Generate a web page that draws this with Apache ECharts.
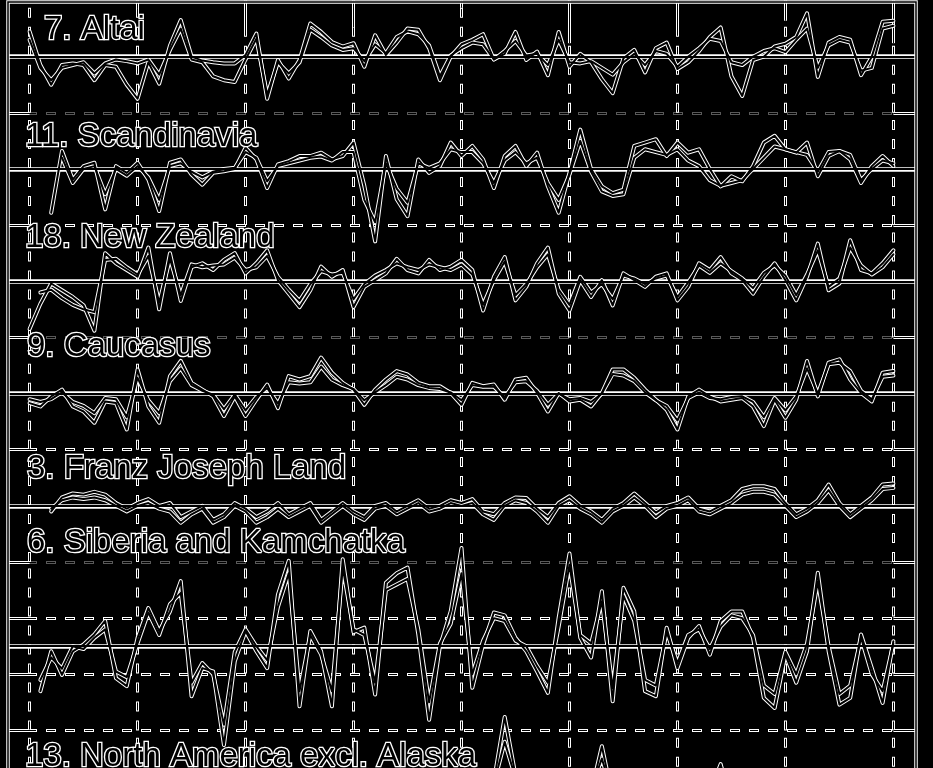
<!DOCTYPE html>
<html>
<head>
<meta charset="utf-8">
<title>Regional glacier mass balance</title>
<script src="https://cdn.jsdelivr.net/npm/echarts@6.0.0/dist/echarts.min.js"></script>
<style>
html, body { margin: 0; padding: 0; background: #000; }
#chart { width: 933px; height: 768px; }
</style>
</head>
<body>
<div id="chart"></div>
<script>
// ---------------- data ----------------
const firstYear = 1940, lastYear = 2020;
const years = [];
for (let y = firstYear; y <= lastYear; y++) years.push(y);
const decadeTicks = [1940, 1950, 1960, 1970, 1980, 1990, 2000, 2010, 2020];
const panelLabels = ['7. Altai', '11. Scandinavia', '18. New Zealand', '9. Caucasus',
  '3. Franz Joseph Land', '6. Siberia and Kamchatka', '13. North America excl. Alaska'];

const altaiA = [
  0.45, -0.15, -0.5, -0.15, -0.12, -0.15, -0.42, -0.15, -0.18, -0.5,
  -0.75, -0.1, -0.48, 0.2, 0.65, 0.0, -0.07, -0.1, -0.12, -0.12,
  0.03, 0.41, -0.75, -0.06, -0.39, -0.06, 0.59, 0.44, 0.26, 0.18,
  0.24, -0.18, 0.38, 0.03, 0.25, 0.5, 0.48, 0.15, -0.42, 0.0,
  0.22, 0.3, 0.4, -0.05, 0.05, 0.44, -0.06, 0.09, -0.33, 0.44,
  -0.18, 0.05, -0.1, -0.4, -0.65, -0.03, 0.12, -0.28, 0.15, 0.25,
  -0.22, -0.1, 0.1, 0.35, 0.52, -0.35, -0.7, -0.06, 0.0, 0.18,
  0.23, 0.35, 0.77, -0.36, 0.25, 0.35, 0.3, -0.33, 0.0, 0.62,
  0.64];
const altaiB = [
  0.3, -0.2, -0.42, -0.2, -0.15, -0.1, -0.3, -0.12, -0.05, -0.08,
  -0.12, -0.05, -0.32, 0.12, 0.5, -0.05, -0.1, -0.35, -0.42, -0.45,
  -0.05, 0.32, -0.68, -0.1, -0.3, -0.1, 0.48, 0.35, 0.2, 0.12,
  0.15, -0.08, 0.22, 0.06, 0.35, 0.45, 0.4, 0.2, -0.35, 0.02,
  0.15, 0.25, 0.22, -0.05, 0.1, 0.28, 0.02, 0.05, -0.15, 0.3,
  -0.1, -0.12, -0.08, -0.2, -0.32, -0.1, 0.05, -0.15, 0.1, 0.05,
  -0.18, 0.0, 0.15, 0.32, 0.28, -0.1, -0.15, 0.0, 0.1, 0.15,
  0.08, 0.3, 0.5, -0.2, 0.2, 0.3, 0.25, -0.25, -0.2, 0.5,
  0.55];

const scandA = [
  null, null, -0.78, 0.32, -0.19, 0.05, 0.11, -0.72, 0.05, -0.07,
  0.11, -0.19, -0.75, 0.11, 0.17, -0.1, -0.28, -0.07, -0.04, 0.0,
  0.38, 0.17, -0.34, 0.08, 0.14, 0.23, 0.23, 0.29, 0.17, 0.23,
  0.47, -0.3, -1.29, 0.23, -0.54, -0.84, 0.17, -0.07, 0.05, 0.47,
  0.23, 0.41, 0.17, -0.34, 0.23, 0.41, 0.05, 0.29, -0.31, -0.78,
  -0.07, 0.7, 0.0, -0.31, -0.43, -0.37, 0.41, 0.47, 0.53, 0.23,
  0.47, 0.29, 0.35, 0.0, -0.31, -0.13, -0.22, 0.05, 0.47, 0.59,
  0.35, 0.29, 0.47, -0.13, 0.23, 0.32, 0.17, -0.25, 0.05, 0.23,
  0.05];
const scandB = [
  null, null, null, 0.2, -0.25, 0.0, 0.05, -0.45, 0.0, -0.12,
  0.05, -0.15, -0.55, 0.05, 0.1, -0.05, -0.15, -0.05, 0.0, 0.02,
  0.3, 0.2, -0.22, 0.05, 0.1, 0.15, 0.2, 0.22, 0.15, 0.3,
  0.3, -0.55, -0.95, 0.1, -0.35, -0.6, 0.1, 0.02, 0.1, 0.35,
  0.3, 0.3, 0.1, -0.25, 0.15, 0.3, 0.1, 0.2, -0.25, -0.55,
  -0.1, 0.5, -0.05, -0.4, -0.48, -0.45, 0.2, 0.35, 0.3, 0.25,
  0.35, 0.15, 0.05, -0.2, -0.3, -0.25, -0.2, 0.0, 0.2, 0.4,
  0.35, 0.3, 0.25, -0.05, 0.3, 0.32, 0.25, -0.2, 0.0, 0.15,
  0.1];

const nzA = [
  -0.85, -0.4, -0.04, -0.16, -0.28, -0.43, -0.88, 0.5, 0.32, 0.2,
  0.08, 0.6, -0.5, 0.5, -0.35, 0.25, 0.32, 0.2, 0.38, 0.5,
  0.14, 0.32, 0.55, 0.02, -0.22, -0.46, -0.16, 0.26, 0.08, 0.2,
  -0.46, -0.1, 0.02, 0.14, 0.4, 0.2, 0.14, 0.38, 0.2, 0.26,
  0.38, 0.2, -0.52, 0.08, 0.43, -0.34, -0.1, 0.32, 0.6, -0.22,
  -0.52, 0.02, -0.28, 0.02, -0.43, 0.14, 0.02, -0.1, 0.08, 0.14,
  -0.34, -0.1, 0.32, 0.2, 0.43, 0.14, 0.02, -0.22, 0.08, 0.32,
  0.02, -0.34, 0.08, 0.67, -0.16, -0.04, 0.73, 0.2, 0.14, 0.32,
  0.55];
const nzB = [
  null, -0.2, -0.15, -0.3, -0.42, -0.5, -0.55, 0.38, 0.4, 0.25,
  0.12, 0.45, -0.38, 0.4, -0.25, 0.3, 0.25, 0.28, 0.3, 0.42,
  0.2, 0.25, 0.45, 0.08, -0.15, -0.35, -0.05, 0.18, 0.12, 0.15,
  -0.32, -0.05, 0.1, 0.2, 0.32, 0.25, 0.2, 0.3, 0.25, 0.2,
  0.3, 0.12, -0.42, 0.02, 0.35, -0.25, -0.05, 0.25, 0.48, -0.15,
  -0.42, 0.08, -0.2, -0.05, -0.32, 0.1, 0.05, -0.05, 0.05, 0.1,
  -0.28, -0.02, 0.28, 0.15, 0.32, 0.18, 0.05, -0.12, 0.15, 0.28,
  0.1, -0.25, 0.12, 0.55, -0.1, 0.05, 0.6, 0.28, 0.12, 0.25,
  0.48];

const caucA = [
  -0.17, -0.23, -0.05, 0.07, -0.23, -0.32, -0.52, -0.14, -0.17, -0.64,
  0.43, -0.23, -0.52, 0.31, 0.58, 0.19, 0.07, -0.05, -0.4, -0.05,
  -0.4, -0.11, 0.16, -0.26, 0.31, 0.25, 0.31, 0.64, 0.37, 0.19,
  0.07, -0.2, 0.07, 0.25, 0.4, 0.34, 0.19, 0.13, 0.13, 0.01,
  -0.2, 0.19, 0.13, 0.16, -0.11, 0.25, 0.28, 0.01, -0.32, 0.01,
  -0.14, -0.11, -0.23, 0.01, 0.43, 0.43, 0.28, 0.07, -0.11, -0.29,
  -0.64, -0.05, 0.07, -0.05, -0.14, -0.11, -0.08, -0.23, -0.58, -0.11,
  -0.43, -0.11, 0.58, -0.05, 0.55, 0.61, 0.25, 0.01, -0.14, 0.37,
  0.4];
const caucB = [
  -0.1, -0.15, -0.1, 0.02, -0.15, -0.22, -0.35, -0.08, -0.1, -0.42,
  0.28, -0.12, -0.35, 0.22, 0.45, 0.15, 0.05, -0.02, -0.28, -0.02,
  -0.3, -0.06, 0.1, -0.18, 0.2, 0.18, 0.2, 0.48, 0.25, 0.15,
  0.08, -0.12, 0.02, 0.15, 0.3, 0.25, 0.15, 0.1, 0.08, 0.02,
  -0.12, 0.15, 0.12, 0.12, -0.06, 0.2, 0.22, 0.05, -0.2, 0.0,
  -0.1, -0.08, -0.15, 0.0, 0.35, 0.32, 0.22, 0.02, -0.12, -0.22,
  -0.48, -0.08, 0.02, -0.08, -0.1, -0.06, -0.05, -0.15, -0.42, -0.08,
  -0.3, -0.05, 0.45, 0.0, 0.52, 0.55, 0.4, 0.05, -0.1, 0.3,
  0.32];

const fjlA = [
  null, null, -0.1, 0.15, 0.22, 0.2, 0.25, 0.2, 0.05, -0.05,
  0.05, 0.12, 0.0, 0.05, -0.2, -0.1, 0.0, -0.25, -0.15, 0.05,
  -0.05, -0.2, -0.1, 0.05, -0.15, -0.05, 0.05, -0.25, -0.1, 0.05,
  -0.1, -0.2, 0.0, 0.05, -0.1, 0.0, 0.1, -0.05, 0.0, 0.1,
  0.05, 0.12, -0.1, -0.15, 0.05, 0.15, 0.14, -0.05, -0.2, 0.05,
  0.17, 0.0, -0.1, -0.25, -0.05, 0.05, 0.22, 0.05, -0.12, 0.0,
  0.05, 0.15, -0.05, -0.1, 0.0, 0.1, 0.3, 0.35, 0.35, 0.3,
  0.05, -0.15, -0.05, 0.1, 0.38, 0.05, -0.15, 0.0, 0.15, 0.38,
  0.4];
const fjlB = [
  null, null, -0.05, 0.1, 0.15, 0.12, 0.15, 0.1, 0.0, -0.1,
  0.0, 0.05, -0.05, -0.1, -0.3, -0.15, -0.05, -0.3, -0.2, 0.0,
  -0.1, -0.3, -0.2, -0.05, -0.2, -0.1, 0.0, -0.3, -0.15, 0.0,
  -0.15, -0.25, -0.05, 0.0, -0.15, -0.05, 0.05, -0.1, -0.05, 0.05,
  0.0, 0.05, -0.15, -0.25, 0.0, 0.1, 0.05, -0.1, -0.3, 0.0,
  0.1, -0.05, -0.15, -0.3, -0.1, 0.0, 0.15, 0.0, -0.2, -0.05,
  0.0, 0.1, -0.1, -0.15, -0.05, 0.05, 0.2, 0.25, 0.25, 0.2,
  0.0, -0.2, -0.1, 0.05, 0.28, 0.0, -0.2, -0.05, 0.1, 0.3,
  0.32];

const sibA = [
  null, -0.8, -0.09, -0.51, -0.09, 0.03, 0.21, 0.45, -0.57, -0.71,
  0.15, 0.68, 0.27, 0.62, 1.16, -0.89, -0.39, -0.45, -1.76, -0.27,
  0.27, -0.09, -0.39, 0.92, 1.52, -1.07, 0.27, -0.09, -1.07, 1.55,
  0.25, 0.33, -0.86, 1.13, 1.3, 1.4, 0.21, -1.31, 0.0, 0.62,
  1.75, -0.74, 0.03, 0.6, 0.55, 0.15, -0.09, -0.45, -0.83, 0.51,
  1.65, 0.15, -0.2, 0.98, -0.98, 1.04, 0.62, -0.8, -0.89, 0.33,
  -0.39, 0.15, 0.36, -0.15, 0.45, 0.62, 0.62, 0.15, -0.92, -1.1,
  -0.15, -0.65, -0.09, 1.31, -0.09, -1.04, -0.92, 0.21, -0.39, -1.01,
  0.09];
const sibB = [
  null, -0.6, -0.2, -0.4, 0.0, -0.05, 0.15, 0.3, -0.45, -0.55,
  0.05, 0.6, 0.2, 0.75, 0.95, -0.65, -0.3, -0.5, -1.4, -0.1,
  0.3, 0.0, -0.25, 0.7, 1.3, -0.8, 0.2, -0.15, -0.8, 1.4,
  0.3, 0.2, -0.65, 1.0, 1.1, 1.2, 0.3, -1.0, 0.05, 0.4,
  1.3, -0.5, 0.1, 0.5, 0.45, 0.1, 0.0, -0.35, -0.65, 0.35,
  1.45, 0.2, 0.05, 0.8, -0.75, 0.9, 0.45, -0.6, -0.7, 0.25,
  -0.3, 0.2, 0.3, -0.05, 0.35, 0.55, 0.5, 0.2, -0.7, -0.85,
  -0.1, -0.5, 0.05, 1.15, 0.0, -0.85, -0.7, 0.15, -0.5, -0.8,
  0.05];

const naA = [
  -0.2, 0.1, -0.3, 0.05, -0.4, -0.1, 0.15, -0.5, 0.0, 0.2,
  -0.2, 0.1, -0.3, 0.0, 0.2, -0.1, -0.4, 0.1, -0.5, 0.0,
  0.15, -0.3, 0.1, -0.2, 0.2, 0.1, -0.2, 0.25, -0.1, 0.1,
  -0.3, 0.2, 0.1, -0.2, 0.25, 0.0, 0.2, -0.4, 0.1, -0.2,
  0.0, -0.3, 0.2, 0.1, 1.24, 0.2, -0.3, -0.1, 0.05, -0.2,
  0.1, 0.0, -0.1, 0.72, -0.2, 0.1, 0.2, -0.3, -0.4, 0.1,
  0.0, 0.2, -0.2, -0.1, 0.4, -0.3, -0.2, 0.1, 0.2, -0.1,
  -0.3, 0.2, 0.1, -0.2, 0.25, -0.4, 0.2, 0.0, -0.3, 0.1,
  0.2];
const naB = [
  -0.1, 0.05, -0.2, 0.0, -0.3, -0.05, 0.1, -0.35, 0.05, 0.1,
  -0.15, 0.05, -0.2, 0.05, 0.15, -0.05, -0.3, 0.05, -0.35, 0.05,
  0.1, -0.2, 0.05, -0.15, 0.15, 0.05, -0.15, 0.2, -0.05, 0.05,
  -0.2, 0.15, 0.05, -0.15, 0.2, 0.05, 0.15, -0.3, 0.05, -0.15,
  0.05, -0.2, 0.15, 0.05, 0.8, 0.15, -0.2, -0.05, 0.0, -0.15,
  0.05, 0.05, -0.05, 0.5, -0.15, 0.05, 0.15, -0.2, -0.3, 0.05,
  0.05, 0.15, -0.15, -0.05, 0.3, -0.2, -0.15, 0.05, 0.15, -0.05,
  -0.2, 0.15, 0.05, -0.15, 0.2, -0.3, 0.15, 0.05, -0.2, 0.05,
  0.15];

// horizontal reference lines of each panel (axis values)
const gridValues = [[-1], [-1], [-1], [-1], [-1], [-1.5, -0.5, 0.5], []];
// solid top ticks on the first panel: [decade, lower end value]
const topTicks = [[1950, 0.85], [1960, 0.5], [1970, 0.52], [1980, 0.87], [1990, 0.24], [2000, 0.5], [2010, 0.64], [2020, 0.24]];

// ---------------- layout & style ----------------
const seriesSets = [[altaiA, altaiB], [scandA, scandB], [nzA, nzB], [caucA, caucB],
  [fjlA, fjlB], [sibA, sibB], [naA, naB]];
const halfRange = [1, 1, 1, 1, 1, 1.5, 1];
const faintBottom = [true, false, true, false, true, false, false];
const PX_PER_UNIT = 56.15;
const TOP0 = 0.5;
const GRID_LEFT = 8, GRID_RIGHT = 18;
const X_MIN = 1938, X_MAX = 2022;
const labelPos = [[44, 30.3], [25, 137], [25, 237.5], [27, 347], [27, 469], [27, 543], [25, 757]];
const FONT = '33px "Liberation Sans", Arial, Helvetica, sans-serif';

(function () {
  const grids = [], xAxes = [], yAxes = [], series = [];
  let gridTop = TOP0;
  seriesSets.forEach((pair, i) => {
    const R = halfRange[i], h = 2 * R * PX_PER_UNIT;
    grids.push({ left: GRID_LEFT, right: GRID_RIGHT, top: gridTop, height: h, containLabel: false, outerBoundsMode: 'none' });
    gridTop += h;
    xAxes.push({ gridIndex: i, type: 'value', min: X_MIN, max: X_MAX, show: false });
    yAxes.push({ gridIndex: i, type: 'value', min: -R, max: R, show: false });

    const pairs = pair.map(arr => years.map((y, k) => [y, arr[k]]).filter(p => p[1] !== null));
    const vLines = decadeTicks.map(x => ({ xAxis: x }));
    const hW = [], hB = [];
    const solidW = { type: 'solid', opacity: 1 }, solidB = { type: 'solid', dashOffset: 0 };
    gridValues[i].forEach((v, k) => {
      const faint = (k === 0 && faintBottom[i]);
      hW.push({ yAxis: v, lineStyle: { opacity: faint ? 0.35 : 1 } });
      hB.push({ yAxis: v });
      [[X_MIN, decadeTicks[0]], [decadeTicks[decadeTicks.length - 1], X_MAX]].forEach(([a, b]) => {
        hW.push([{ coord: [a, v], lineStyle: solidW }, { coord: [b, v], lineStyle: solidW }]);
        hB.push([{ coord: [a, v], lineStyle: solidB }, { coord: [b, v], lineStyle: solidB }]);
      });
    });
    if (i === 0) {
      topTicks.forEach(([x, lo]) => {
        hW.push([{ coord: [x, R], lineStyle: solidW }, { coord: [x, lo], lineStyle: solidW }]);
        hB.push([{ coord: [x, R], lineStyle: solidB }, { coord: [x, lo], lineStyle: solidB }]);
      });
    }

    const base = {
      type: 'line', xAxisIndex: i, yAxisIndex: i, symbol: 'none', showSymbol: false,
      silent: true, clip: false, animation: false, emphasis: { disabled: true }
    };
    const mkBase = { silent: true, symbol: ['none', 'none'], animation: false, label: { show: false }, emphasis: { disabled: true } };

    series.push(Object.assign({}, base, {
      data: pairs[0], lineStyle: { opacity: 0 }, z: 1,
      markLine: Object.assign({}, mkBase, { z: 1, lineStyle: { color: '#fff', width: 3, type: [10, 9] }, data: vLines.concat(hW) })
    }));
    series.push(Object.assign({}, base, {
      data: pairs[0], lineStyle: { opacity: 0 }, z: 2,
      markLine: Object.assign({}, mkBase, { z: 2, lineStyle: { color: '#000', width: 1, type: [8, 11], dashOffset: -1 }, data: vLines.concat(hB) })
    }));
    pairs.forEach((d, k) => {
      const s = Object.assign({}, base, { data: d, z: 3, lineStyle: { color: '#fff', width: 4, join: 'round', cap: 'round' } });
      if (k === 0) s.markLine = Object.assign({}, mkBase, { z: 3, lineStyle: { color: '#fff', width: 4.5, type: 'solid' }, data: [{ yAxis: 0 }] });
      series.push(s);
    });
    pairs.forEach((d, k) => {
      const s = Object.assign({}, base, { data: d, z: 4, lineStyle: { color: '#000', width: 2, join: 'round', cap: 'round' } });
      if (k === 0) s.markLine = Object.assign({}, mkBase, { z: 4, lineStyle: { color: '#000', width: 2.2, type: 'solid' }, data: [{ yAxis: 0 }] });
      series.push(s);
    });
  });

  const graphic = [
    { type: 'rect', silent: true, z: 100, shape: { x: 8, y: 2, width: 908, height: 900 }, style: { fill: 'none', stroke: '#fff', lineWidth: 3.5 } },
    { type: 'rect', silent: true, z: 101, shape: { x: 8, y: 2, width: 908, height: 900 }, style: { fill: 'none', stroke: '#000', lineWidth: 1.5 } }
  ];
  panelLabels.forEach((t, i) => {
    const [lx, ly] = labelPos[i];
    graphic.push({ type: 'text', silent: true, z: 102, x: lx, y: ly,
      style: { text: t, font: FONT, fill: '#fff', stroke: '#fff', lineWidth: 2.6, align: 'left', verticalAlign: 'middle', textAlign: 'left', textVerticalAlign: 'middle' } });
    graphic.push({ type: 'text', silent: true, z: 103, x: lx, y: ly,
      style: { text: t, font: FONT, fill: '#000', align: 'left', verticalAlign: 'middle', textAlign: 'left', textVerticalAlign: 'middle' } });
  });

  const chart = echarts.init(document.getElementById('chart'), null, { renderer: 'canvas', width: 933, height: 768 });
  chart.setOption({
    backgroundColor: '#000',
    animation: false,
    grid: grids,
    xAxis: xAxes,
    yAxis: yAxes,
    series: series,
    graphic: graphic
  });
})();
</script>
</body>
</html>
